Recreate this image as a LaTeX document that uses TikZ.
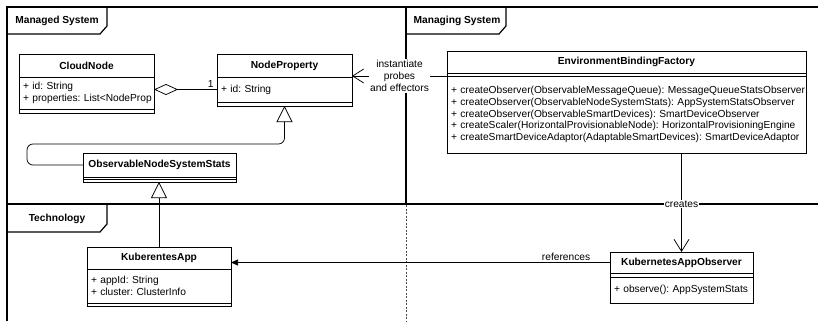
\documentclass[tikz,border=0pt]{standalone}
\usepackage{fontspec}
\setmainfont{Liberation Sans}
\usetikzlibrary{positioning,arrows.meta}

\begin{document}
\frenchspacing
\fontsize{10.2}{11.8}\selectfont
\begin{tikzpicture}[x=1pt,y=-1pt,
			classhead/.style={draw,rectangle,font=\bfseries,inner sep=0pt,outer sep=0pt,line width=.75pt},
			classpart/.style={draw,rectangle,align=left,inner xsep=4pt,inner ysep=0pt,outer sep=0pt,line width=.75pt},
			emptypart/.style={draw,rectangle,inner sep=0pt,outer sep=0pt,line width=.75pt},
			frameline/.style={line width=1.8pt},
			tabline/.style={line width=1.2pt},
			tablabel/.style={font=\bfseries,inner sep=1pt},
			conn/.style={line width=.75pt},
			lbl/.style={fill=white,inner sep=1pt,align=center}]
			\useasboundingbox (0,0) rectangle (818,321);
			% frames
			\draw[frameline] (818,7) -- (7,7) -- (7,321);
			\draw[frameline] (406,7) -- (406,204);
			\draw[frameline] (7,204) -- (818,204);
			\draw[black!70,line width=1pt,dash pattern=on 2pt off 1.5pt] (406,205) -- (406,321);
			\draw[tabline] (7,34) -- (100,34) -- (107,26) -- (107,7);
			\draw[tabline] (406,34) -- (499,34) -- (506,26) -- (506,7);
			\draw[tabline] (7,232) -- (100,232) -- (107,224) -- (107,204);
			\node (mgdlabel) [tablabel] at (57,21) {Managed System};
			\node (mgnlabel) [tablabel] at (457,21) {Managing System};
			\node (techlabel) [tablabel] at (57,219) {Technology};

			% managed system
			\node (cnhead) [classhead,anchor=north west,minimum width=135pt,minimum height=23pt] at (19,54) {CloudNode};
			\node (cnattr) [classpart,text width=127pt,minimum height=32pt,below=0pt of cnhead] {+ id: String\\\mbox{+ properties: List<NodeProp}};
			\node (cnfoot) [emptypart,minimum width=135pt,minimum height=4pt,below=0pt of cnattr] {};

			\node (nphead) [classhead,anchor=north west,minimum width=135pt,minimum height=23pt] at (217,54) {NodeProperty};
			\node (npattr) [classpart,text width=127pt,minimum height=25pt,below=0pt of nphead] {+ id: String};
			\node (npfoot) [emptypart,minimum width=135pt,minimum height=4pt,below=0pt of npattr] {};

			\node (onshead) [classhead,anchor=north west,minimum width=153pt,minimum height=24pt] at (83,153) {ObservableNodeSystemStats};
			\node (onsattr) [emptypart,minimum width=153pt,minimum height=2.6pt,below=0pt of onshead] {};
			\node (onsfoot) [emptypart,minimum width=153pt,minimum height=2.4pt,below=0pt of onsattr] {};

			% managing system
			\node (ebfhead) [classhead,anchor=north west,minimum width=359pt,minimum height=22pt] at (447,51) {EnvironmentBindingFactory};
			\node (ebfattr) [emptypart,minimum width=359pt,minimum height=3pt,below=0pt of ebfhead] {};
			\node (ebfops) [classpart,text width=351pt,minimum height=77pt,below=0pt of ebfattr] {\mbox{+ createObserver(ObservableMessageQueue): MessageQueueStatsObserver}\\
				\mbox{+ createObserver(ObservableNodeSystemStats): AppSystemStatsObserver}\\
				\mbox{+ createObserver(ObservableSmartDevices): SmartDeviceObserver}\\
				\mbox{+ createScaler(HorizontalProvisionableNode): HorizontalProvisioningEngine}\\
				\mbox{+ createSmartDeviceAdaptor(AdaptableSmartDevices): SmartDeviceAdaptor}};

			% technology
			\node (kahead) [classhead,anchor=north west,minimum width=144pt,minimum height=22pt] at (87,247) {KuberentesApp};
			\node (kaattr) [classpart,text width=136pt,minimum height=34pt,below=0pt of kahead] {+ appId: String\\+ cluster: ClusterInfo};
			\node (kafoot) [emptypart,minimum width=144pt,minimum height=3pt,below=0pt of kaattr] {};

			\node (kaohead) [classhead,anchor=north west,minimum width=143pt,minimum height=21pt] at (610,252) {KubernetesAppObserver};
			\node (kaoattr) [emptypart,minimum width=143pt,minimum height=4pt,below=0pt of kaohead] {};
			\node (kaoops) [classpart,text width=135pt,minimum height=26pt,below=0pt of kaoattr] {\mbox{+ observe(): AppSystemStats}};

			% connectors
			\draw[conn,{Diamond[open,length=24pt,width=11pt]}-] (cnattr.east |- npattr.west) -- node[pos=.9,above,inner sep=2pt] {1} (npattr.west);
			\draw[conn,-{Triangle[open,length=16pt,width=16pt]},rounded corners=6pt] (onshead.west) -- ++(-56,0) -- ++(0,-21) -| (npfoot.south);
			\draw[conn,-{Triangle[open,length=16pt,width=16pt]}] (kahead.north) -- (kahead.north |- onsfoot.south);
			\draw[conn,-{Straight Barb[length=11pt,width=14pt]}] (ebfattr.south west) -- node[lbl] {instantiate\\probes\\and effectors} (ebfattr.south west -| nphead.east);
			\draw[conn,-{Straight Barb[length=12pt,width=15pt]}] (ebfops.south -| kaohead.north) -- node[lbl,pos=.515] {creates} (kaohead.north);
			\draw[conn,-{Triangle[length=7pt,width=6pt]}] (kaohead.west) -- node[pos=.116,above,inner sep=2pt] {references} (kaohead.west -| kahead.east);
		\end{tikzpicture}
\end{document}
